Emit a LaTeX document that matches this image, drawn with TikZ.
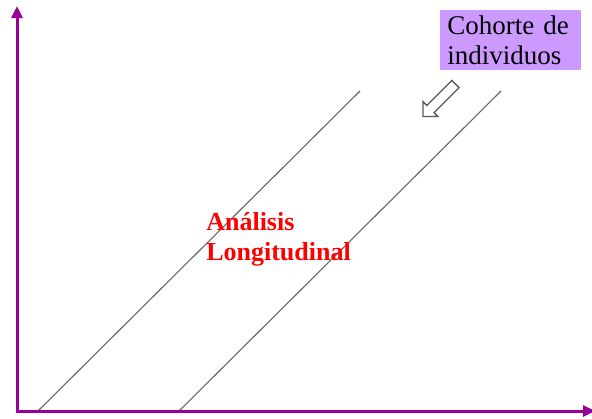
\documentclass[tikz,border=0pt]{standalone}
\usepackage{fontspec}
\setmainfont{Liberation Serif}
\usepackage{tikz}
\usetikzlibrary{arrows.meta,shapes.arrows,positioning}
\definecolor{ejes}{HTML}{990099}
\definecolor{lila}{HTML}{CC99FF}

\begin{document}
\begin{tikzpicture}
          [x=1pt,y=-1pt,semithick]
          \tikzstyle{axis}=[draw=ejes,line width=3pt,{Triangle[length=12pt,width=11pt]}-{Triangle[length=12pt,width=11pt]}]
          \tikzstyle{cohort}=[draw=black!60,line width=1.1pt]
          \tikzstyle{box}=[fill=lila,inner xsep=7pt,inner ysep=3pt,align=left,minimum width=141pt,minimum height=60pt,text width=127pt,font=\fontsize{27}{30}\selectfont]
          \tikzstyle{hollow}=[single arrow,draw=black!65,fill=white,line width=1.3pt,inner xsep=0pt,inner ysep=4.5pt,single arrow head extend=5.5pt,minimum height=46pt]

          \useasboundingbox (0,0) rectangle (592,418);

          \coordinate (O) at (17,411);
          \coordinate (ytop) at (17,6);
          \coordinate (xend) at (595,411);
          \coordinate (a1) at (38,411);
          \coordinate (a2) at (360,91);
          \coordinate (b1) at (179,411);
          \coordinate (b2) at (501,91);

          \draw[cohort] (a1) -- (a2);
          \draw[cohort] (b1) -- (b2);
          \draw[axis] (ytop) -- (O) -- (xend);

          \node[box,anchor=north west] (cohorte) at (440,10) {Cohorte de\\individuos};
          \node[hollow,rotate=225] (flecha) at (441,98.5) {};

          \node[anchor=north west,align=left,text=red,inner sep=0pt,font=\fontsize{26}{30}\selectfont\bfseries] (analisis) at (206,212) {Análisis\\Longitudinal};
        \end{tikzpicture}
\end{document}
